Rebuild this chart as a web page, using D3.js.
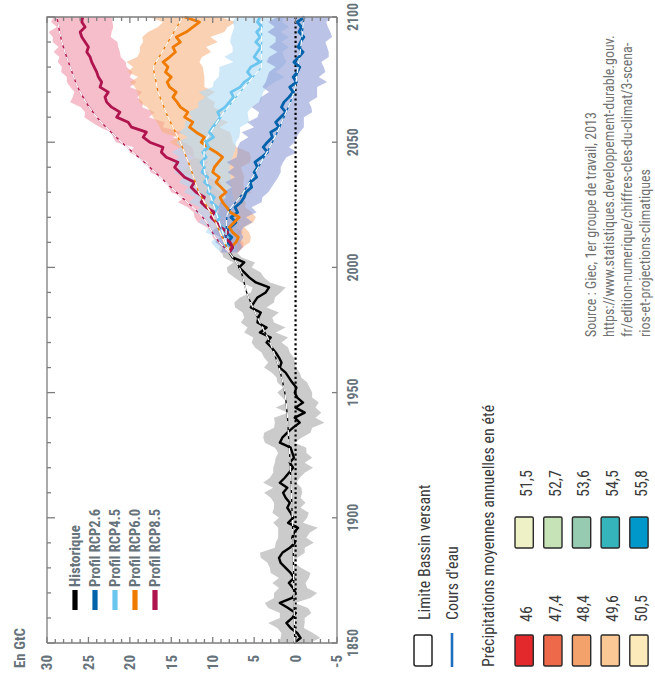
<!DOCTYPE html>
<html><head><meta charset="utf-8">
<script src="https://cdn.jsdelivr.net/npm/d3@7"></script>
<style>body{margin:0;background:#fff}svg{display:block}</style>
</head><body>
<svg id="c" width="655" height="675"></svg>
<script>
// ---------- DATA ----------
const histYears = d3.range(1850, 2007, 2);
const histValues = [0.2,-0.6,-0.2,0.6,1.1,0.4,0.0,0.9,1.9,0.4,0.0,0.3,0.8,0.2,0.6,1.2,1.8,2.0,1.6,0.7,0.1,0.4,0.2,-0.3,0.9,0.3,0.6,1.0,0.7,1.2,1.5,1.0,1.9,1.3,0.8,0.3,0.7,0.2,0.4,0.6,1.9,1.6,1.0,0.3,-0.5,0.1,-1.1,0.0,-0.9,-0.2,0.1,-0.1,0.4,0.8,1.2,1.9,1.7,2.0,2.4,2.9,3.5,3.0,4.3,3.5,4.6,4.5,4.2,5.4,5.0,4.6,3.6,3.2,4.8,5.6,6.2,6.8,6.2,7.6,8.0];
const histSpread = [1.8,2.4,1.9,1.6,2.2,1.5,1.9,2.4,1.8,2.2,2.6,1.7,2.0,1.8,2.4,1.9,1.6,2.2,2.7,1.8,2.3,1.7,1.9,2.4,1.8,1.7,2.2,1.6,1.9,1.8,2.3,1.7,2.0,1.8,1.9,2.4,1.8,2.2,1.7,1.9,1.8,2.3,2.8,2.3,3.0,2.5,2.0,2.4,1.9,1.8,2.1,1.6,1.8,1.5,1.7,1.9,1.6,1.8,1.7,2.0,1.8,2.1,1.9,2.3,2.0,1.7,2.2,1.9,2.4,2.1,1.8,2.0,1.7,1.8,2.0,1.5,1.3,1.1,0.9];

const projYears = d3.range(2006, 2101, 2);
const rcp26Values = [8.0,7.6,8.2,7.7,8.4,7.9,7.2,7.8,7.0,7.3,6.6,6.2,6.0,5.3,5.5,4.7,5.0,4.6,4.9,4.1,3.4,3.9,3.4,2.8,3.0,2.0,2.4,1.8,1.2,1.7,1.4,0.8,0.3,0.7,-0.1,0.3,-0.2,-0.5,0.2,-0.4,-0.9,-0.3,-0.6,-1.0,-0.4,-0.7,-0.2,-1.1];
const rcp45Values = [8.0,8.4,8.6,8.2,9.0,8.7,9.5,9.2,9.8,9.4,10.2,9.8,10.6,10.3,11.0,10.6,11.3,11.0,11.4,10.8,11.2,10.5,10.8,9.9,10.4,10.0,9.5,9.1,9.4,8.5,8.0,7.5,7.8,6.7,6.2,5.3,5.8,5.4,4.3,5.0,4.6,4.2,4.8,4.3,4.7,4.1,4.6,4.3];
const rcp60Values = [8.0,7.8,7.2,6.9,7.6,8.0,7.4,6.8,7.9,8.3,8.8,9.1,8.4,9.0,9.6,9.2,10.0,9.8,9.3,8.8,9.6,10.6,11.4,11.0,12.0,12.8,12.4,13.4,13.0,13.9,14.3,14.8,14.4,15.2,15.5,15.0,15.7,15.4,16.0,15.2,14.5,14.8,13.9,14.4,13.2,12.4,11.6,13.4];
const rcp85Values = [8.0,7.6,7.9,8.6,8.2,9.0,9.6,10.2,9.8,10.8,11.4,11.0,12.0,12.6,12.2,13.4,14.0,14.6,14.2,15.6,16.2,16.0,17.6,18.4,18.0,19.8,20.2,21.6,21.2,22.2,22.8,23.0,22.6,23.6,23.4,23.8,24.0,24.3,24.6,24.8,25.2,25.0,25.4,25.8,26.0,25.4,25.8,25.7];

const rcp26Spread = [1.0,1.2,1.5,1.4,1.8,1.6,2.0,1.8,2.3,2.0,2.5,2.2,2.7,2.4,3.0,2.6,3.2,2.8,3.4,3.0,3.6,3.1,3.3,2.9,3.5,3.0,3.4,2.8,3.2,3.6,3.0,3.4,2.9,3.3,3.7,3.1,3.4,2.9,3.3,3.6,3.1,3.5,3.0,3.4,3.8,3.2,3.5,3.3];
const rcp45Spread = [1.0,1.3,1.6,1.4,1.9,1.7,2.2,1.9,2.4,2.1,2.7,2.3,2.9,2.6,3.1,2.8,3.4,3.0,3.5,3.2,3.8,3.3,3.6,3.1,3.7,3.3,3.9,3.4,3.6,3.2,3.8,3.4,3.9,3.3,3.7,4.0,3.4,3.8,3.2,3.6,3.0,3.4,3.1,3.5,2.9,3.3,3.0,2.9];
const rcp60Spread = [1.1,1.4,1.7,1.5,2.0,1.8,2.3,2.0,2.6,2.2,2.8,2.5,3.1,2.7,3.3,3.0,3.6,3.2,3.8,3.4,4.0,3.5,3.8,3.3,4.1,3.6,4.3,3.8,4.5,4.0,4.6,4.1,4.7,4.2,4.5,4.0,4.6,4.2,4.4,3.9,4.3,4.0,4.5,4.1,4.6,4.2,4.4,4.3];
const rcp85Spread = [1.0,1.3,1.6,1.4,1.9,1.7,2.2,2.0,2.5,2.2,2.8,2.4,3.0,2.7,3.3,2.9,3.5,3.1,3.7,3.3,3.9,3.5,4.1,3.6,4.3,3.8,4.4,3.9,4.2,3.7,4.4,3.9,4.1,3.6,4.2,3.8,4.3,3.9,4.1,3.7,4.0,3.6,3.9,3.5,3.8,3.4,3.7,3.5];

const histSmoothYears = [1850,1870,1890,1910,1930,1950,1960,1970,1980,1990,2000,2006];
const histSmooth = [0.1,0.2,0.3,0.5,0.8,1.3,2.0,3.1,4.6,5.9,6.8,8.0];
const smoothYears = [2006,2010,2020,2030,2040,2050,2060,2070,2080,2090,2100];
const rcp26Smooth = [8.0,8.4,8.3,6.3,4.5,2.8,1.4,0.2,-0.3,-0.7,-1.0];
const rcp45Smooth = [8.0,8.4,9.4,10.4,11.1,11.0,9.1,6.7,4.1,4.1,4.1];
const rcp60Smooth = [8.0,8.6,9.9,11.7,12.7,13.9,15.4,16.6,17.2,15.4,13.6];
const rcp85Smooth = [8.0,9.2,11.2,14.4,17.6,21.0,24.0,26.0,27.2,28.2,28.8];

const seriesNames = ["Historique","Profil RCP2.6","Profil RCP4.5","Profil RCP6.0","Profil RCP8.5"];
const seriesColors = ["#000000","#0062ab","#6cc5ee","#ef7c00","#b0144f"];
const bandColors = ["#c2c2c2","#8d9bd6","#b0dbf5","#f9b282","#ef93a6"];

const valueTicks = [30,25,20,15,10,5,0,-5];
const yearTicks = [1850,1900,1950,2000,2050,2100];

const precipLabels = ["46","47,4","48,4","49,6","50,5","51,5","52,7","53,6","54,5","55,8"];
const precipColors = ["#e3292b","#ee694a","#f4a26c","#fac895","#fdeabb","#eef1c6","#c6e2b7","#97cbb1","#35b4bc","#0098ca"];

const sourceLines = ["Source : Giec, 1er groupe de travail, 2013","https://www.statistiques.developpement-durable.gouv.","fr/edition-numerique/chiffres-cles-du-climat/3-scena-","rios-et-projections-climatiques"];

// ---------- CHART ----------
const svg = d3.select("#c");
// whole figure is rotated: u = horizontal in group, v = vertical in group
const g = svg.append("g").attr("transform","translate(0,675) rotate(-90)");
const x = d3.scaleLinear().domain([1850,2100]).range([32,658]);
const y = d3.scaleLinear().domain([-5,30]).range([337,47]);
const axisCol = "#7d7d7d", labCol = "#67737b";
const condensed = "'Liberation Sans Narrow','Arial Narrow','Roboto Condensed',Roboto,sans-serif";

function mk(years, vals, spread){ return years.map((yr,i)=>({yr, v:vals[i], s: spread? spread[i]:0})); }
const hist = mk(histYears, histValues, histSpread);
const projVals = [rcp26Values, rcp45Values, rcp60Values, rcp85Values];
const projSpr = [rcp26Spread, rcp45Spread, rcp60Spread, rcp85Spread];
const proj = projVals.map((v,i)=>mk(projYears, v, projSpr[i]));
const smooths = [rcp26Smooth, rcp45Smooth, rcp60Smooth, rcp85Smooth].map(s=>mk(smoothYears, s));
const histS = mk(histSmoothYears, histSmooth);

const area = d3.area().x(d=>x(d.yr)).y0(d=>y(d.v-d.s)).y1(d=>y(d.v+d.s));
const line = d3.line().x(d=>x(d.yr)).y(d=>y(d.v));

// bands
g.append("path").attr("d", area(hist)).attr("fill", bandColors[0]).attr("opacity",0.85);
[3,2,1,0].forEach(i=>{
  g.append("path").attr("d", area(proj[i])).attr("fill", bandColors[i+1]).attr("opacity",0.6);
});

// zero dotted line
g.append("line").attr("x1",x(1850)).attr("x2",x(2100)).attr("y1",y(0)).attr("y2",y(0))
  .attr("stroke","#000").attr("stroke-width",2.2).attr("stroke-dasharray","2.2,2.6");

// noisy lines
g.append("path").attr("d", line(hist)).attr("fill","none").attr("stroke","#000").attr("stroke-width",2.4).attr("stroke-linejoin","round");
[0,2,1,3].forEach(i=>{
  g.append("path").attr("d", line(proj[i])).attr("fill","none").attr("stroke",seriesColors[i+1]).attr("stroke-width",2.8).attr("stroke-linejoin","round");
});

// smooth dashed lines
const sm = d3.line().x(d=>x(d.yr)).y(d=>y(d.v)).curve(d3.curveMonotoneX);
const smLin = d3.line().x(d=>x(d.yr)).y(d=>y(d.v));
function dashed(data, col, gen){
  g.append("path").attr("d", gen(data)).attr("fill","none").attr("stroke",col).attr("stroke-width",1.3);
  g.append("path").attr("d", gen(data)).attr("fill","none").attr("stroke","#fff").attr("stroke-width",1.3).attr("stroke-dasharray","6,3");
}
dashed(histS, "#000", sm);
dashed(smooths[0], seriesColors[1], sm);
dashed(smooths[1], seriesColors[2], smLin);
dashed(smooths[2], seriesColors[3], smLin);
dashed(smooths[3], seriesColors[4], sm);

// frame
const fr = g.append("g").attr("stroke",axisCol).attr("stroke-width",1.3).attr("fill","none");
fr.append("path").attr("d",`M${x(1850)},${y(30)}V${y(-5)}H${x(2100)}`);
fr.append("path").attr("d",`M${x(1850)},${y(30)}H${x(2100)}V${y(-5)}`);
d3.range(-5,31,1).forEach(v=>{
  const L = v%5===0 ? 6 : 4;
  fr.append("line").attr("x1",x(1850)).attr("x2",x(1850)+L).attr("y1",y(v)).attr("y2",y(v));
  fr.append("line").attr("x1",x(2100)).attr("x2",x(2100)-L).attr("y1",y(v)).attr("y2",y(v));
});
d3.range(1850,2101,10).forEach(yr=>{
  const L = yr%50===0 ? 8 : 4;
  fr.append("line").attr("x1",x(yr)).attr("x2",x(yr)).attr("y1",y(30)).attr("y2",y(30)+L);
});
yearTicks.forEach(yr=>{
  fr.append("line").attr("x1",x(yr)).attr("x2",x(yr)).attr("y1",y(-5)).attr("y2",y(-5)-5);
});

// tick labels
g.selectAll(".vl").data(valueTicks).enter().append("text")
  .attr("x",20).attr("y",d=>y(d)+5.3).attr("text-anchor","end")
  .attr("font-family",condensed).attr("font-weight","bold").attr("font-size",15).attr("fill",labCol)
  .text(d=>d);
g.selectAll(".yl").data(yearTicks).enter().append("text")
  .attr("x",d=>x(d)).attr("y",357.5).attr("text-anchor","middle")
  .attr("font-family",condensed).attr("font-weight","bold").attr("font-size",15).attr("fill",labCol)
  .attr("textLength",28).attr("lengthAdjust","spacingAndGlyphs")
  .text(d=>d);

// unit
g.append("text").attr("x",7).attr("y",24.5).attr("font-family",condensed).attr("font-weight","bold")
  .attr("font-size",15).attr("fill",labCol).attr("textLength",40).attr("lengthAdjust","spacingAndGlyphs").text("En GtC");

// series legend
seriesNames.forEach((n,i)=>{
  const cv = 75 + i*20;
  g.append("rect").attr("x",65).attr("width",20).attr("y",cv-2.6).attr("height",5.2).attr("fill",seriesColors[i]);
  g.append("text").attr("x",88).attr("y",cv+5).attr("font-family",condensed).attr("font-weight","bold")
    .attr("font-size",14).attr("fill",labCol)
    .attr("textLength", i===0?62:78).attr("lengthAdjust","spacingAndGlyphs").text(n);
});

// map legend
const txtCol = "#3a3a3a";
g.append("rect").attr("x",9).attr("y",414).attr("width",31).attr("height",18).attr("rx",2)
  .attr("fill","#fff").attr("stroke","#222").attr("stroke-width",1.5);
g.append("text").attr("x",55).attr("y",430).attr("font-family",condensed).attr("font-size",16).attr("fill",txtCol).text("Limite Bassin versant");
g.append("line").attr("x1",8).attr("x2",42).attr("y1",452).attr("y2",452).attr("stroke","#1f6fc0").attr("stroke-width",2.6);
g.append("text").attr("x",55).attr("y",458).attr("font-family",condensed).attr("font-size",16).attr("fill",txtCol).text("Cours d'eau");
g.append("text").attr("x",8).attr("y",494).attr("font-family",condensed).attr("font-size",16).attr("fill",txtCol).text("Précipitations moyennes annuelles en été");

precipLabels.forEach((lab,i)=>{
  const col = Math.floor(i/5), row = i%5;
  const u0 = col===0 ? 9 : 127;
  const v0 = 515 + row*28.7;
  g.append("rect").attr("x",u0).attr("y",v0).attr("width",31).attr("height",18.3).attr("rx",1.5)
    .attr("fill",precipColors[i]).attr("stroke","#2a2a2a").attr("stroke-width",1.4);
  g.append("text").attr("x",col===0?53:178).attr("y",v0+17).attr("font-family",condensed)
    .attr("font-size",16).attr("fill",txtCol).text(lab);
});

// source
sourceLines.forEach((s,i)=>{
  g.append("text").attr("x",338).attr("y",596+i*18).attr("font-family",condensed)
    .attr("font-size",14).attr("fill","#707070").text(s);
});
</script>
</body></html>
